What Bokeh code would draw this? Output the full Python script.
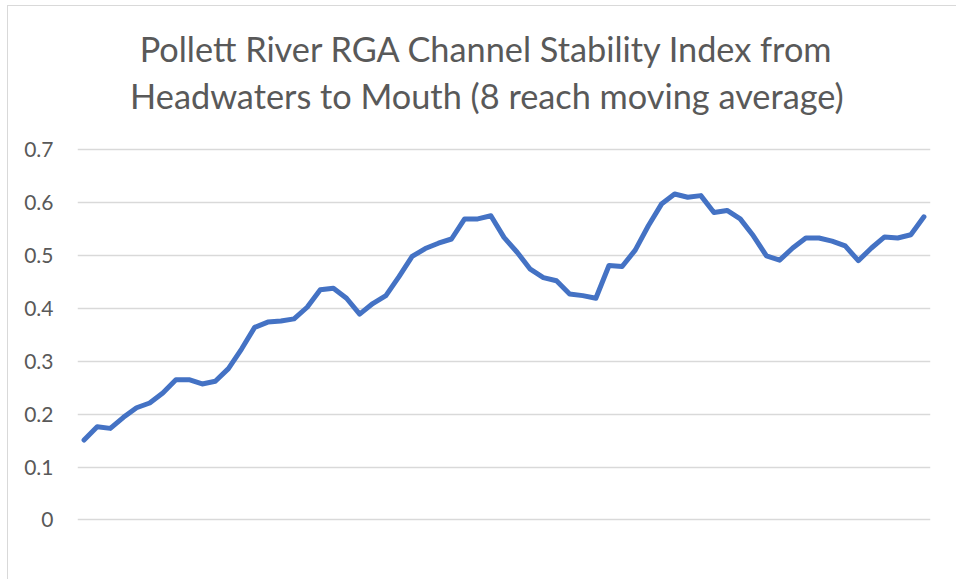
from bokeh.plotting import figure
from bokeh.models import FixedTicker, Label
from bokeh.embed import file_html
from bokeh.resources import INLINE

# Data: 8-reach moving average of RGA Channel Stability Index, headwaters -> mouth
reach = list(range(1, 66))
stability_index = [
    0.151, 0.176, 0.173, 0.194, 0.212, 0.221, 0.240, 0.265, 0.265, 0.257,
    0.262, 0.286, 0.323, 0.364, 0.374, 0.376, 0.380, 0.402, 0.435, 0.438,
    0.419, 0.389, 0.409, 0.424, 0.460, 0.498, 0.513, 0.523, 0.531, 0.569,
    0.569, 0.575, 0.534, 0.506, 0.474, 0.458, 0.452, 0.427, 0.424, 0.419,
    0.481, 0.479, 0.510, 0.556, 0.597, 0.616, 0.610, 0.613, 0.581, 0.585,
    0.569, 0.537, 0.499, 0.491, 0.514, 0.533, 0.533, 0.527, 0.518, 0.490,
    0.514, 0.535, 0.533, 0.539, 0.573,
]
y_ticks = [0, 0.1, 0.2, 0.3, 0.4, 0.5, 0.6, 0.7]
y_tick_labels = ["0", "0.1", "0.2", "0.3", "0.4", "0.5", "0.6", "0.7"]
title_lines = [
    "Pollett River RGA Channel Stability Index from",
    "Headwaters to Mouth (8 reach moving average)",
]

FONT = "Lato"

# The frame extends up to the top of the canvas so the two-line title can sit
# inside it; gridlines and ticks are only drawn from 0 to 0.7.
p = figure(
    width=949, height=574,
    x_range=(0.5, len(reach) + 0.5), y_range=(-0.003, 0.9705),
    output_backend="svg", toolbar_location=None,
    min_border_left=69, min_border_right=27,
    min_border_top=0, min_border_bottom=59,
)
p.title.visible = False
p.margin = (5, 0, 0, 7)
p.styles = {"border-left": "1px solid #d9d9d9", "border-top": "1px solid #d9d9d9"}
p.outline_line_color = None
p.background_fill_color = "white"
p.border_fill_color = "white"

for line_text, y_base in zip(title_lines, [0.892, 0.803]):
    p.add_layout(Label(
        x=31.7, y=y_base, text=line_text,
        text_align="center", text_baseline="alphabetic",
        text_font=FONT, text_font_size="34.3px", text_color="#595959",
    ))

p.line(reach, stability_index, line_color="#4472C4", line_width=5,
       line_join="round", line_cap="round")

p.xaxis.visible = False
p.xgrid.visible = False
p.yaxis.ticker = FixedTicker(ticks=y_ticks)
p.yaxis.major_label_overrides = {t: l for t, l in zip(y_ticks, y_tick_labels)}
p.yaxis.axis_line_color = None
p.yaxis.major_tick_line_color = None
p.yaxis.minor_tick_line_color = None
p.yaxis.major_label_standoff = 18
p.yaxis.major_label_text_font = FONT
p.yaxis.major_label_text_font_size = "21px"
p.yaxis.major_label_text_color = "#595959"
p.ygrid.ticker = FixedTicker(ticks=y_ticks)
p.ygrid.grid_line_color = "#d9d9d9"
p.ygrid.grid_line_width = 1.5

open("out.html", "w").write(file_html(p, INLINE))
